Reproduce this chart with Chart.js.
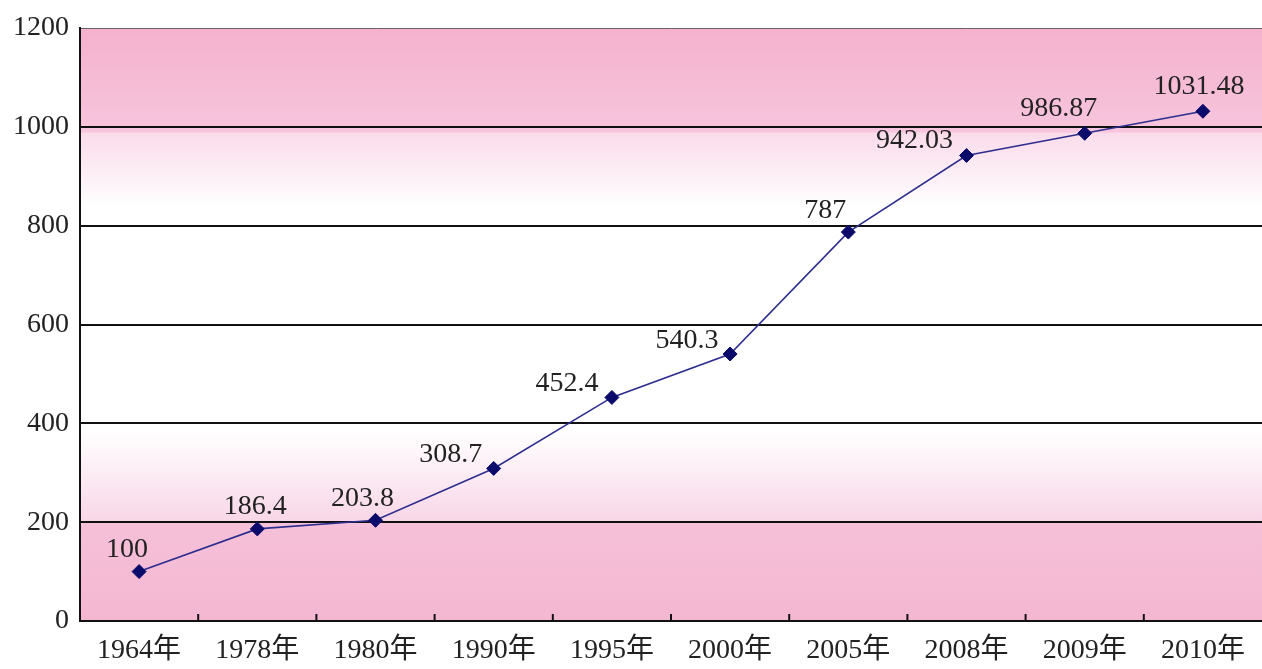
<!DOCTYPE html>
<html>
<head>
<meta charset="utf-8">
<script src="https://cdn.jsdelivr.net/npm/chart.js@4/dist/chart.umd.min.js"></script>
<style>
  body { margin: 0; background: #ffffff; overflow: hidden; }
  #chart { display: block; }
</style>
</head>
<body>
<canvas id="chart" width="1262" height="669"></canvas>
<script>
// Years on the x axis and the index values
const years = ['1964年', '1978年', '1980年', '1990年', '1995年', '2000年', '2005年', '2008年', '2009年', '2010年'];
const values = [100, 186.4, 203.8, 308.7, 452.4, 540.3, 787, 942.03, 986.87, 1031.48];
const yTicks = [0, 200, 400, 600, 800, 1000, 1200];

// Label nudges (style only) - the labels sit above and a bit left of each point
const labelDx = [-12, -2, -13, -43, -45, -43, -23, -52, -26, -4];
const labelDy = [-22, -22, -22, -14, -14, -13, -21, -15, -25, -25];

const serif = '"Liberation Serif", "Times New Roman", "Noto Sans CJK SC", serif';

// Pink / white / pink band behind the plot
const backgroundPlugin = {
    id: 'bandBackground',
    beforeDraw(chart) {
        const { ctx, chartArea } = chart;
        const g = ctx.createLinearGradient(0, chartArea.top, 0, chartArea.bottom);
        g.addColorStop(0.0, '#f4b1cd');
        g.addColorStop(0.175, '#f7c5dd');
        g.addColorStop(0.178, '#fadcea');
        g.addColorStop(0.26, '#fdf2f8');
        g.addColorStop(0.30, '#ffffff');
        g.addColorStop(0.68, '#ffffff');
        g.addColorStop(0.77, '#fbe7f1');
        g.addColorStop(0.832, '#f8d6e7');
        g.addColorStop(0.836, '#f6c0d9');
        g.addColorStop(1.0, '#f4b7d1');
        ctx.save();
        ctx.fillStyle = g;
        ctx.fillRect(chartArea.left, chartArea.top, chartArea.right - chartArea.left, chartArea.bottom - chartArea.top);
        ctx.restore();
    }
};

// Small upward tick marks between the categories, plus the value labels
const extrasPlugin = {
    id: 'extras',
    afterDatasetsDraw(chart) {
        const { ctx, chartArea } = chart;
        const x = chart.scales.x;
        ctx.save();
        ctx.strokeStyle = '#111';
        ctx.lineWidth = 2;
        for (let i = 1; i < years.length; i++) {
            const px = (x.getPixelForValue(i - 1) + x.getPixelForValue(i)) / 2;
            ctx.beginPath();
            ctx.moveTo(px, chartArea.bottom);
            ctx.lineTo(px, chartArea.bottom - 7);
            ctx.stroke();
        }

        const meta = chart.getDatasetMeta(0);
        ctx.fillStyle = '#222';
        ctx.font = '28px ' + serif;
        ctx.textAlign = 'center';
        ctx.textBaseline = 'middle';
        meta.data.forEach((pt, i) => {
            ctx.fillText(String(values[i]), pt.x + labelDx[i], pt.y + labelDy[i]);
        });
        ctx.restore();
    }
};

new Chart(document.getElementById('chart').getContext('2d'), {
    type: 'line',
    data: {
        labels: years,
        datasets: [{
            data: values,
            borderColor: '#2e2e8e',
            borderWidth: 1.6,
            pointStyle: 'rectRot',
            pointRadius: 7,
            pointBackgroundColor: '#0b0b6b',
            pointBorderColor: '#0b0b6b',
            pointBorderWidth: 1,
            tension: 0,
            fill: false
        }]
    },
    options: {
        responsive: false,
        animation: false,
        layout: { autoPadding: false, padding: { top: 28, right: 0, left: 0, bottom: 0 } },
        plugins: {
            legend: { display: false },
            tooltip: { enabled: false }
        },
        scales: {
            x: {
                offset: true,
                grid: { display: false, drawTicks: false },
                border: { display: true, color: '#111', width: 2 },
                ticks: {
                    color: '#222',
                    font: { size: 28, family: serif },
                    padding: 13,
                    maxRotation: 0
                },
                afterFit(scale) {
                    scale.height = 48;
                    scale.paddingLeft = 0;
                    scale.paddingRight = 0;
                }
            },
            y: {
                min: 0,
                max: 1200,
                afterBuildTicks(scale) { scale.ticks = yTicks.map(v => ({ value: v })); },
                grid: {
                    drawTicks: false,
                    color: ctx => ctx.tick && ctx.tick.value === 1200 ? '#666' : '#111',
                    lineWidth: ctx => ctx.tick && ctx.tick.value === 1200 ? 1 : 2
                },
                border: { display: true, color: '#111', width: 2 },
                ticks: {
                    color: '#222',
                    font: { size: 28, family: serif },
                    padding: 11,
                    callback: v => String(v)
                },
                afterFit(scale) { scale.width = 80; }
            }
        }
    },
    plugins: [backgroundPlugin, extrasPlugin]
});
</script>
</body>
</html>
